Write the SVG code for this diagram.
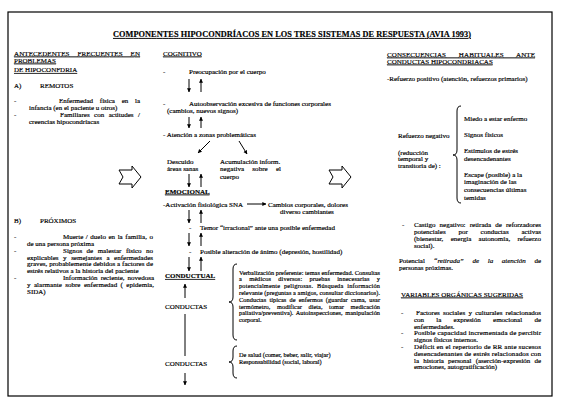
<svg xmlns="http://www.w3.org/2000/svg" width="584" height="409" viewBox="0 0 584 409">
<style>
.t{font-family:"Liberation Serif","Times New Roman",serif;font-size:7px;fill:#000;stroke:#000;stroke-width:0.18px}
.u{text-decoration:underline}
.b{font-weight:bold}
.s{font-size:6.3px}
.i{font-style:italic}
.ln{stroke:#000;stroke-width:1;fill:none}
.ar{stroke:#000;stroke-width:1;fill:none;marker-end:url(#ah)}
.blk{stroke:#000;stroke-width:1;fill:#fff}
</style>
<defs>
<marker id="ah" viewBox="0 0 6 6" refX="5.5" refY="3" markerWidth="4" markerHeight="4.5" markerUnits="userSpaceOnUse" orient="auto">
<path d="M0,0 L6,3 L0,6 Z" fill="#000"/>
</marker>
</defs>
<rect width="584" height="409" fill="#fff"/>
<rect x="8" y="12" width="544" height="384" fill="none" stroke="#000" stroke-width="1.2"/>

<g id="title">
<text class="t b u" x="113" y="37" style="font-size:8.3px" textLength="358" lengthAdjust="spacing">COMPONENTES HIPOCONDRÍACOS EN LOS TRES SISTEMAS DE RESPUESTA (AVIA 1993)</text>
</g>

<g id="antecedentes">
<text class="t u" x="14" y="55.5" textLength="126" lengthAdjust="spacing" word-spacing="6">ANTECEDENTES FRECUENTES EN</text>
<text class="t u" x="14" y="62.5">PROBLEMAS</text>
<text class="t u" x="14" y="72">DE HIPOCONFDRIA</text>
</g>

<g id="remotos">
<text class="t" x="14" y="88">A)</text>
<text class="t" x="40" y="88">REMOTOS</text>
<text class="t" x="14" y="102.5">-</text>
<text class="t" x="59" y="102.5" textLength="81" lengthAdjust="spacing" word-spacing="5">Enfermedad física en la</text>
<text class="t" x="29" y="109.5">infancia (en el paciente u otros)</text>
<text class="t" x="14" y="116.5">-</text>
<text class="t" x="60" y="116.5" textLength="80" lengthAdjust="spacing" word-spacing="2.7">Familiares con actitudes /</text>
<text class="t" x="29" y="123.5">creencias hipocondríacas</text>
</g>

<g id="proximos">
<text class="t" x="14" y="222.5">B)</text>
<text class="t" x="40" y="222.5">PRÓXIMOS</text>
<text class="t" x="14" y="239">-</text>
<text class="t" x="63" y="239" textLength="90" lengthAdjust="spacing" word-spacing="0.8">Muerte / duelo en la familia, o</text>
<text class="t" x="27" y="245.7">de una persona próxima</text>
<text class="t" x="14" y="252.6">-</text>
<text class="t" x="63" y="252.6" textLength="90" lengthAdjust="spacing" word-spacing="2.7">Signos de malestar físico no</text>
<text class="t" x="27" y="259.5" textLength="126" lengthAdjust="spacing" word-spacing="2.8">explicables y semejantes a enfermedades</text>
<text class="t" x="27" y="266.4" textLength="126" lengthAdjust="spacing">graves, probablemente debidos a factores de</text>
<text class="t" x="27" y="273.3">estrés relativos a la historia del paciente</text>
<text class="t" x="14" y="280.2">-</text>
<text class="t" x="63" y="280.2" textLength="91" lengthAdjust="spacing" word-spacing="1.3">Información reciente, novedosa</text>
<text class="t" x="27" y="287.1" textLength="127" lengthAdjust="spacing" word-spacing="1.6">y alarmante sobre enfermedad ( epidemia,</text>
<text class="t" x="27" y="294">SIDA)</text>
</g>

<g id="cognitivo">
<text class="t u" x="163" y="55.5">COGNITIVO</text>
<text class="t" x="163" y="74">-</text>
<text class="t" x="189" y="74">Preocupación  por el cuerpo</text>
<text class="t" x="163" y="105.5">-</text>
<text class="t" x="189" y="105.5">Autoobservación excesiva de funciones corporales</text>
<text class="t" x="167" y="113">(cambios, nuevos signos)</text>
<text class="t" x="163" y="136.5">- Atención a zonas problemáticas</text>
</g>

<g id="descuido">
<text class="t" x="167" y="164">Descuido</text>
<text class="t" x="167" y="171">áreas sanas</text>
</g>

<g id="acumulacion">
<text class="t" x="220" y="164">Acumulación inform.</text>
<text class="t" x="220" y="171" textLength="61" lengthAdjust="spacing" word-spacing="6.3">negativa sobre el</text>
<text class="t" x="220" y="178.5">cuerpo</text>
</g>

<g id="emocional">
<text class="t b u" x="165" y="193.5">EMOCIONAL</text>
<text class="t" x="163" y="206.5">-Activación fisiológica SNA</text>
<text class="t" x="189" y="229.5">-</text>
<text class="t" x="200" y="229.5">Temor “irracional” ante una posible enfermedad</text>
<text class="t" x="189" y="253.5">-</text>
<text class="t" x="200" y="253.5">Posible alteración de ánimo (depresión, hostilidad)</text>
</g>

<g id="cambios">
<text class="t" x="268" y="206.5">Cambios corporales, dolores</text>
<text class="t" x="280" y="214">diverso  cambiantes</text>
</g>

<g id="conductual">
<text class="t b u" x="165" y="278">CONDUCTUAL</text>
</g>
<g id="conductas1">
<text class="t" x="165" y="308.5">CONDUCTAS</text>
</g>
<g id="conductas2">
<text class="t" x="165" y="365.5">CONDUCTAS</text>
</g>

<g id="verbalizacion">
<text class="t s" x="239" y="274.5" textLength="141" lengthAdjust="spacing">Verbalización preferente: temas enfermedad. Consultas</text>
<text class="t s" x="239" y="281.3" textLength="141" lengthAdjust="spacing" word-spacing="5.5">a médicos diversos: pruebas innecesarias y</text>
<text class="t s" x="239" y="288.1" textLength="141" lengthAdjust="spacing" word-spacing="2">potencialmente peligrosas. Búsqueda información</text>
<text class="t s" x="239" y="294.9" textLength="141" lengthAdjust="spacing">relevante (preguntas a amigos, consultar diccionarios).</text>
<text class="t s" x="239" y="301.7" textLength="141" lengthAdjust="spacing" word-spacing="1.5">Conductas típicas de enfermos (guardar cama, usar</text>
<text class="t s" x="239" y="308.5" textLength="141" lengthAdjust="spacing" word-spacing="5">termómetro, modificar dieta, tomar medicación</text>
<text class="t s" x="239" y="315.3" textLength="141" lengthAdjust="spacing" word-spacing="1">paliativa/preventiva). Autoinspecciones, manipulación</text>
<text class="t s" x="239" y="322.1">corporal.</text>
</g>

<g id="salud">
<text class="t s" x="239" y="356.5">De salud (comer, beber, salir, viajar)</text>
<text class="t s" x="239" y="364">Responsabilidad (social, laboral)</text>
</g>

<g id="consecuencias">
<text class="t u" x="387" y="56.5" textLength="148" lengthAdjust="spacing" word-spacing="11">CONSECUENCIAS HABITUALES ANTE</text>
<text class="t u" x="387" y="63.5">CONDUCTAS HIPOCONDRIACAS</text>
<text class="t" x="387" y="81">-Refuerzo positivo (atención, refuerzos primarios)</text>
</g>

<g id="refuerzo-negativo">
<text class="t" x="398" y="138">Refuerzo negativo</text>
<text class="t" x="398" y="154.5">(reducción</text>
<text class="t" x="398" y="161">temporal  y</text>
<text class="t" x="398" y="168">transitoria de) :</text>
</g>

<g id="refuerzo-lista">
<text class="t" x="464" y="120.5">Miedo a estar enfermo</text>
<text class="t" x="464" y="137">Signos físicos</text>
<text class="t" x="464" y="153">Estímulos de estrés</text>
<text class="t" x="464" y="160.5">desencadenantes</text>
<text class="t" x="464" y="176.5">Escape (posible) a la</text>
<text class="t" x="464" y="184">imaginación de las</text>
<text class="t" x="464" y="191.5">consecuencias últimas</text>
<text class="t" x="464" y="200">temidas</text>
</g>

<g id="castigo">
<text class="t" x="402" y="227">-</text>
<text class="t" x="414" y="227" textLength="127" lengthAdjust="spacing" word-spacing="2.4">Castigo negativo: retirada de reforzadores</text>
<text class="t" x="414" y="234" textLength="127" lengthAdjust="spacing" word-spacing="11">potenciales por conductas activas</text>
<text class="t" x="414" y="241" textLength="127" lengthAdjust="spacing" word-spacing="5.5">(bienestar, energía autonomía, refuerzo</text>
<text class="t" x="414" y="248">social).</text>
</g>

<g id="potencial">
<text class="t" x="399" y="262.5" textLength="142" lengthAdjust="spacing" word-spacing="7">Potencial <tspan class="i">“retirada” de la atención</tspan> de</text>
<text class="t" x="399" y="269.5">personas próximas.</text>
</g>

<g id="variables">
<text class="t u" x="401" y="296.5">VARIABLES ORGÁNICAS SUGERIDAS</text>
<text class="t" x="401" y="315">-</text>
<text class="t" x="416" y="315" textLength="125" lengthAdjust="spacing" word-spacing="1.5">Factores sociales y culturales relacionados</text>
<text class="t" x="414" y="321.8" textLength="127" lengthAdjust="spacing" word-spacing="10.5">con la expresión emocional de</text>
<text class="t" x="414" y="328.6">enfermedades.</text>
<text class="t" x="401" y="335.4">-</text>
<text class="t" x="414" y="335.4" textLength="127" lengthAdjust="spacing">Posible capacidad incrementada de percibir</text>
<text class="t" x="414" y="342.2">signos físicos internos.</text>
<text class="t" x="401" y="349">-</text>
<text class="t" x="414" y="349" textLength="127" lengthAdjust="spacing">Déficit en el repertorio de RR ante sucesos</text>
<text class="t" x="414" y="355.8" textLength="127" lengthAdjust="spacing">desencadenantes de estrés relacionados con</text>
<text class="t" x="414" y="362.6" textLength="127" lengthAdjust="spacing" word-spacing="2.5">la historia personal (aserción-expresión de</text>
<text class="t" x="414" y="369.4">emociones, autogratificación)</text>
</g>

<g id="connectors">
<line class="ar" x1="189" y1="79" x2="189" y2="92"/>
<line class="ar" x1="201" y1="92" x2="201" y2="79"/>
<line class="ar" x1="189" y1="117" x2="189" y2="128"/>
<line class="ar" x1="201" y1="128" x2="201" y2="117"/>
<line class="ar" x1="210" y1="141" x2="198" y2="153"/>
<line class="ar" x1="239" y1="141" x2="247" y2="154"/>
<line class="ar" x1="189" y1="174" x2="189" y2="187"/>
<line class="ar" x1="201" y1="187" x2="201" y2="174"/>
<line class="ar" x1="247" y1="204" x2="266" y2="204"/>
<line class="ar" x1="189" y1="210" x2="189" y2="223"/>
<line class="ar" x1="201" y1="223" x2="201" y2="210"/>
<line class="ar" x1="189" y1="233" x2="189" y2="246"/>
<line class="ar" x1="201" y1="246" x2="201" y2="233"/>
<line class="ar" x1="189" y1="257" x2="189" y2="271"/>
<line class="ar" x1="201" y1="271" x2="201" y2="257"/>
<line class="ar" x1="185" y1="298" x2="185" y2="284"/>
<line class="ln" x1="185" y1="314" x2="185" y2="356"/>
<line class="ar" x1="185" y1="373" x2="185" y2="385"/>
<path class="ln" d="M461,106 Q457,106 457,111 L457,150 Q457,155 453,155 Q457,155 457,160 L457,198 Q457,203 461,203"/>
<path class="ln" d="M237,264 Q233,264 233,269 L233,297 Q233,302 229,302 Q233,302 233,307 L233,335 Q233,340 237,340"/>
<path class="ln" d="M237,346 Q233,346 233,351 L233,357 Q233,362 229,362 Q233,362 233,367 L233,373 Q233,378 237,378"/>
<path class="blk" d="M119,170 L132,170 L132,166 L141,177 L132,188 L132,184 L119,184 L123,177 Z"/>
<path class="blk" d="M329,170 L342,170 L342,166 L351,177 L342,188 L342,184 L329,184 L333,177 Z"/>
</g>
</svg>
